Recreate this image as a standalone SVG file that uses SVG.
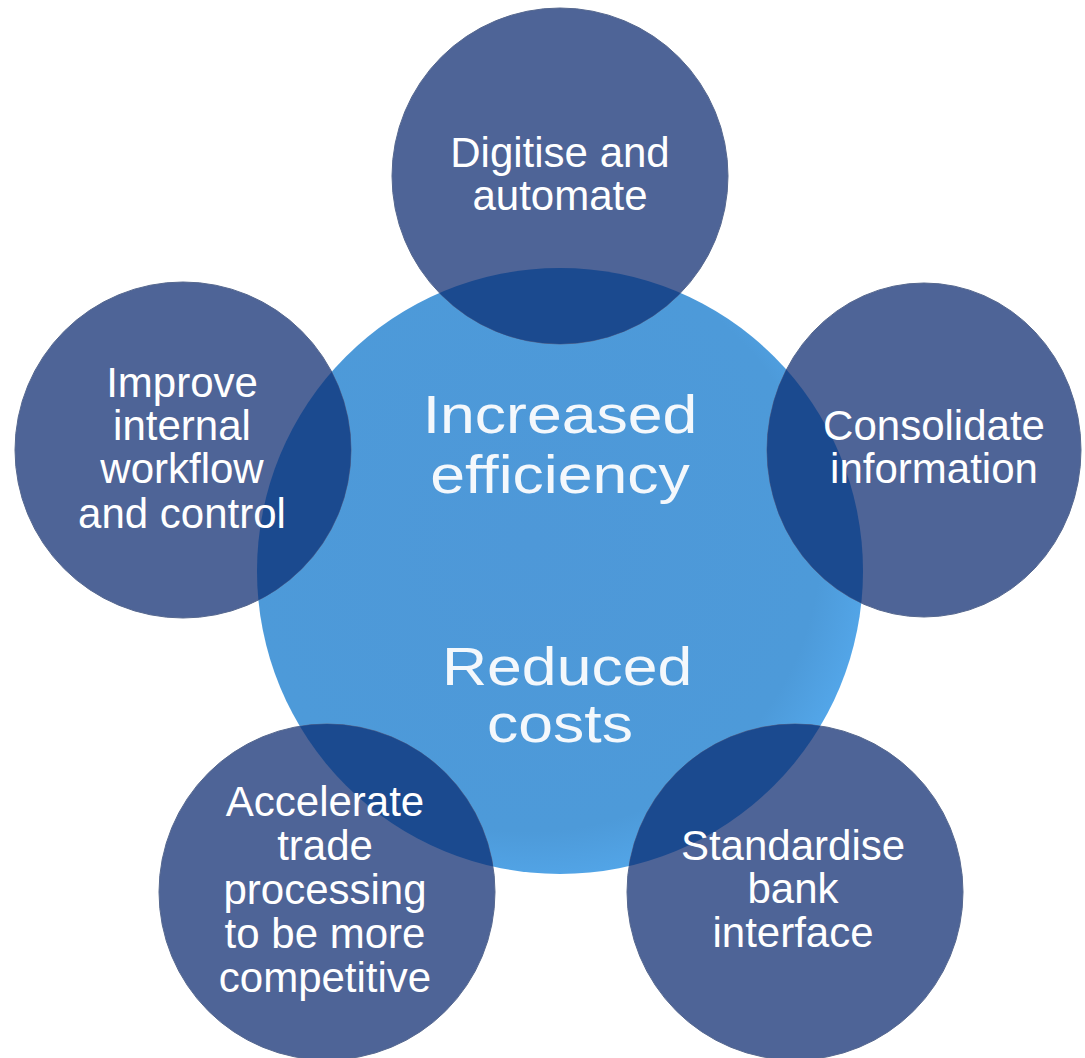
<svg xmlns="http://www.w3.org/2000/svg" width="1085" height="1058" viewBox="0 0 1085 1058">
<style>
.sm{fill:#4e6497;stroke:#56688f;stroke-width:1}
.ov{fill:#1b4a8f}
.t{font-family:"Liberation Sans",Arial,sans-serif;font-size:42px;fill:#ffffff;text-anchor:middle}
.ct{font-family:"Liberation Sans",Arial,sans-serif;font-size:53px;fill:#f4f8fc;text-anchor:middle}
</style>
<defs>
<radialGradient id="cg" cx="0.45" cy="0.45" r="0.6">
<stop offset="0" stop-color="#4e98d8"/>
<stop offset="0.8" stop-color="#4d9ad9"/>
<stop offset="1" stop-color="#55aaee"/>
</radialGradient>
<clipPath id="cc"><circle cx="560" cy="571" r="303"/></clipPath>
</defs>
<rect width="1085" height="1058" fill="#ffffff"/>
<g id="connectors"/>
<g id="center">
<circle cx="560" cy="571" r="303" fill="url(#cg)"/>
<g transform="translate(560,0) scale(1.18,1)">
<text class="ct" x="0" y="433">Increased</text>
<text class="ct" x="0" y="493">efficiency</text>
<text class="ct" x="6" y="685">Reduced</text>
<text class="ct" x="0" y="742">costs</text>
</g>
</g>
<g id="digitise">
<circle class="sm" cx="560" cy="176" r="168"/>
<circle class="ov" cx="560" cy="176" r="168" clip-path="url(#cc)"/>
<text class="t" x="560" y="167">Digitise and</text>
<text class="t" x="560" y="210">automate</text>
</g>
<g id="consolidate">
<ellipse class="sm" cx="924" cy="450" rx="157" ry="167"/>
<ellipse class="ov" cx="924" cy="450" rx="157" ry="167" clip-path="url(#cc)"/>
<text class="t" x="934" y="440">Consolidate</text>
<text class="t" x="934" y="483">information</text>
</g>
<g id="improve">
<circle class="sm" cx="183" cy="450" r="168"/>
<circle class="ov" cx="183" cy="450" r="168" clip-path="url(#cc)"/>
<text class="t" x="182" y="397">Improve</text>
<text class="t" x="182" y="440">internal</text>
<text class="t" x="182" y="483">workflow</text>
<text class="t" x="182" y="528">and control</text>
</g>
<g id="accelerate">
<circle class="sm" cx="327" cy="892" r="168"/>
<circle class="ov" cx="327" cy="892" r="168" clip-path="url(#cc)"/>
<text class="t" x="325" y="816">Accelerate</text>
<text class="t" x="325" y="860">trade</text>
<text class="t" x="325" y="904">processing</text>
<text class="t" x="325" y="948">to be more</text>
<text class="t" x="325" y="992">competitive</text>
</g>
<g id="standardise">
<circle class="sm" cx="795" cy="892" r="168"/>
<circle class="ov" cx="795" cy="892" r="168" clip-path="url(#cc)"/>
<text class="t" x="793" y="860">Standardise</text>
<text class="t" x="793" y="903">bank</text>
<text class="t" x="793" y="947">interface</text>
</g>
</svg>
